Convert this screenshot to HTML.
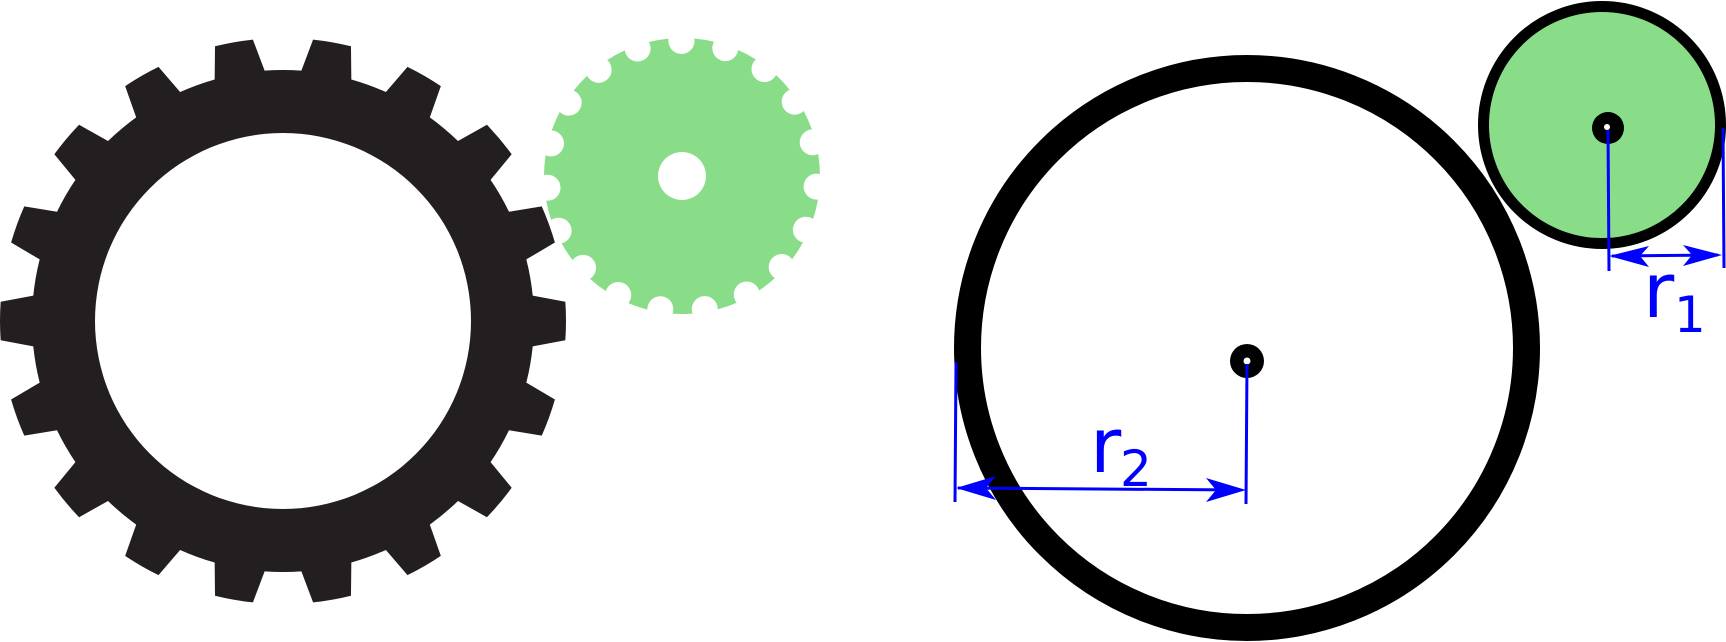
<!DOCTYPE html>
<html><head><meta charset="utf-8"><style>
html,body{margin:0;padding:0;background:#fff;}
svg{display:block;}
</style></head><body>
<svg id="s" width="1726" height="642" viewBox="0 0 1726 642" xmlns="http://www.w3.org/2000/svg">
<path id="g1" fill="#231f20" fill-rule="evenodd" d=""/>
<path id="g2" fill="#89dd89" fill-rule="evenodd" d=""/>
<circle cx="1247" cy="348" r="279.5" fill="none" stroke="#000" stroke-width="27"/>
<circle cx="1247" cy="361" r="17" fill="#000"/>
<circle cx="1247" cy="361" r="3.5" fill="#fff"/>
<circle cx="1602" cy="125" r="118.5" fill="#89dd89" stroke="#000" stroke-width="11"/>
<circle cx="1608" cy="128" r="16" fill="#000"/>
<circle cx="1607" cy="127" r="3" fill="#fff"/>
<g stroke="#0000ff" stroke-width="3" fill="none">
<line x1="956" y1="362" x2="955" y2="502"/>
<line x1="1247" y1="364" x2="1246" y2="504"/>
<line x1="958" y1="488" x2="1240" y2="490"/>
<line x1="1608" y1="130" x2="1609" y2="271"/>
<line x1="1723" y1="128" x2="1724" y2="268"/>
<line x1="1612" y1="256" x2="1718" y2="255"/>
</g>
<g fill="#0000ff">
<path d="M956,488 L996,476 L986,488 L996,500 Z"/>
<path d="M1246,490 L1206,478 L1216,490 L1206,502 Z"/>
<path d="M1609,256 L1649,246 L1640,256 L1649,267 Z"/>
<path d="M1722,255 L1683,245 L1692,255 L1683,266 Z"/>
</g>
<g fill="#0000ff" font-family="'DejaVu Sans','Liberation Sans',sans-serif">
<text x="1090" y="472" font-size="76">r</text>
<text x="1120" y="486" font-size="50">2</text>
<text x="1643" y="317" font-size="76">r</text>
<text x="1674" y="332" font-size="50">1</text>
</g>
</svg>
<script>
(function(){
function P(cx,cy,r,a){a=a*Math.PI/180;return [cx+r*Math.cos(a),cy-r*Math.sin(a)];}
function f(p){return p[0].toFixed(2)+','+p[1].toFixed(2);}
var cx=283,cy=321,rt=283,rr=251,rh=188,d='';
for(var i=0;i<18;i++){
 var a=i*20;
 var pts=[P(cx,cy,rr,a-5.8),P(cx,cy,rt,a-3.9),P(cx,cy,rt,a+3.9),P(cx,cy,rr,a+5.8)];
 d+=(i==0?'M':'L')+f(pts[0])+' L'+f(pts[1])+' A'+rt+','+rt+' 0 0 0 '+f(pts[2])+' L'+f(pts[3])+' A'+rr+','+rr+' 0 0 0 '+f(P(cx,cy,rr,a+20-5.8));
}
d+='Z M'+(cx+rh)+','+cy+' A'+rh+','+rh+' 0 1 0 '+(cx-rh)+','+cy+' A'+rh+','+rh+' 0 1 0 '+(cx+rh)+','+cy+'Z';
document.getElementById('g1').setAttribute('d',d);
var gx=682,gy=176,R=138,n=19,off=-4.5,nr=13,nc=135,d2='';
var x=(R*R+nc*nc-nr*nr)/(2*nc); var h=Math.sqrt(R*R-x*x); var ha=Math.atan2(h,x)*180/Math.PI;
var st=360/n;
for(var k=0;k<n;k++){
 var a=off+k*st;
 var p1=P(gx,gy,R,a-ha), p2=P(gx,gy,R,a+ha), p3=P(gx,gy,R,a+st-ha);
 if(k==0) d2+='M'+f(p1);
 d2+=' A'+nr+','+nr+' 0 1 1 '+f(p2);
 d2+=' A'+R+','+R+' 0 0 0 '+f(p3);
}
d2+='Z M'+(gx+24)+','+gy+' A24,24 0 1 0 '+(gx-24)+','+gy+' A24,24 0 1 0 '+(gx+24)+','+gy+'Z';
document.getElementById('g2').setAttribute('d',d2);
})();
</script>
</body></html>
